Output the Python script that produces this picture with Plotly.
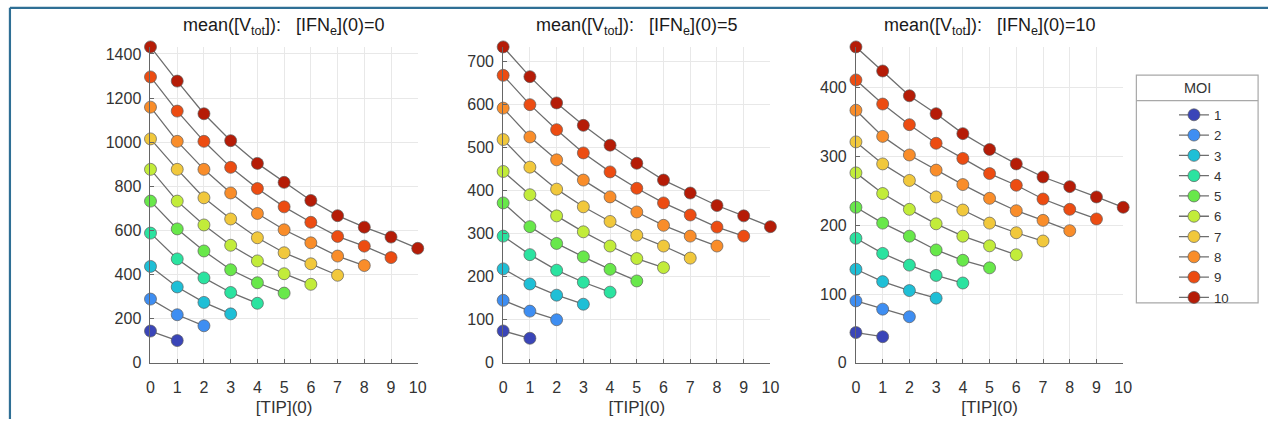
import plotly.graph_objects as go

W, H = 1277, 428

moi = [1, 2, 3, 4, 5, 6, 7, 8, 9, 10]
moi_labels = ["1", "2", "3", "4", "5", "6", "7", "8", "9", "10"]
ifn_values = [0, 5, 10]

# mean([V_tot]) for each MOI, at [TIP](0) = 0..MOI
vtot_ifn0 = [
    [144, 101],
    [289, 218, 168],
    [437, 344, 274, 222],
    [588, 471, 385, 319, 270],
    [733, 607, 507, 422, 363, 316],
    [877, 733, 625, 533, 462, 404, 356],
    [1015, 877, 748, 652, 567, 499, 449, 397],
    [1159, 1004, 877, 770, 677, 603, 544, 484, 441],
    [1296, 1141, 1004, 886, 790, 707, 637, 573, 529, 477],
    [1432, 1277, 1129, 1007, 904, 818, 736, 667, 615, 570, 519],
]
vtot_ifn5 = [
    [74, 57],
    [145, 120, 100],
    [218, 183, 157, 136],
    [294, 251, 215, 187, 164],
    [371, 316, 277, 246, 217, 190],
    [444, 390, 341, 304, 271, 242, 221],
    [518, 454, 403, 362, 328, 296, 271, 243],
    [591, 524, 471, 424, 385, 350, 319, 294, 271],
    [667, 599, 541, 487, 443, 405, 371, 343, 315, 294],
    [733, 664, 603, 551, 505, 463, 424, 394, 365, 341, 316],
]
vtot_ifn10 = [
    [44, 38],
    [90, 78, 67],
    [136, 118, 105, 94],
    [181, 159, 142, 127, 116],
    [226, 203, 184, 164, 149, 138],
    [276, 246, 223, 202, 184, 170, 157],
    [321, 289, 265, 241, 222, 203, 189, 177],
    [367, 329, 302, 280, 259, 239, 221, 207, 192],
    [411, 376, 346, 319, 297, 275, 258, 238, 223, 209],
    [459, 424, 388, 362, 333, 310, 289, 270, 256, 241, 226],
]
panels = [vtot_ifn0, vtot_ifn5, vtot_ifn10]
ytick_vals = [
    [0, 200, 400, 600, 800, 1000, 1200, 1400],
    [0, 100, 200, 300, 400, 500, 600, 700],
    [0, 100, 200, 300, 400],
]
xtick_vals = list(range(0, 11))

colors = ["#3a45b8", "#3e8ef2", "#1fbfd6", "#2be3a0", "#68e84a",
          "#c2ec3a", "#f1c83c", "#f98d2a", "#ec4c12", "#b51c07"]

# pixel layout
x_px = [(148, 418), (504.3, 774.3), (860.7, 1130.7)]
y_bot, y_top = 370.5, 47

fig = go.Figure()
font_fam = "Liberation Sans, Arial, sans-serif"
txt_col = "#333333"

for p, data in enumerate(panels):
    xa = "x" if p == 0 else f"x{p+1}"
    ya = "y" if p == 0 else f"y{p+1}"
    for i, vals in enumerate(data):
        fig.add_trace(go.Scatter(
            x=list(range(len(vals))), y=vals, xaxis=xa, yaxis=ya,
            mode="lines+markers", name=moi_labels[i], legendgroup=moi_labels[i],
            showlegend=(p == 0),
            line=dict(color="#6e6e6e", width=1.3),
            marker=dict(size=12, color=colors[i],
                        line=dict(color="rgba(90,90,90,0.85)", width=0.8)),
            cliponaxis=False,
        ))
    ymax = max(max(v) for v in data)
    ax = dict(
        domain=[x_px[p][0] / W, x_px[p][1] / W], range=[0, 10],
        tickvals=xtick_vals, ticks="inside", ticklen=4, tickcolor="#666",
        showline=True, linecolor="#666", linewidth=1, mirror=False,
        showgrid=True, gridcolor="#e8e8e8", gridwidth=1, zeroline=False,
        tickfont=dict(size=16, color=txt_col, family=font_fam),
        ticklabelstandoff=10,
        title=dict(text="[TIP](0)", font=dict(size=17, color=txt_col, family=font_fam), standoff=6),
        anchor=ya, fixedrange=True,
    )
    ay = dict(
        domain=[1 - y_bot / H, 1 - y_top / H], range=[0, ymax],
        tickvals=ytick_vals[p], ticks="inside", ticklen=4, tickcolor="#666",
        showline=True, linecolor="#666", linewidth=1, mirror=False,
        showgrid=True, gridcolor="#e8e8e8", gridwidth=1, zeroline=False,
        tickfont=dict(size=16, color=txt_col, family=font_fam),
        ticklabelstandoff=5,
        anchor=xa, fixedrange=True,
    )
    if p == 0:
        fig.update_layout(xaxis=ax, yaxis=ay)
    else:
        fig.update_layout(**{f"xaxis{p+1}": ax, f"yaxis{p+1}": ay})
    nb = "\u00a0"
    fig.add_annotation(
        text=f"mean([V<sub>tot</sub>]):{nb*3}[IFN<sub>e</sub>](0)={ifn_values[p]}",
        xref="paper", yref="paper",
        x=(x_px[p][0] + x_px[p][1]) / 2 / W, y=1 - 26 / H,
        xanchor="center", yanchor="middle", showarrow=False,
        font=dict(size=18, color="#1a1a1a", family=font_fam),
    )

# legend frame and title
lx0, lx1, ly0, ly1, lsep = 1144, 1267, 76, 309, 102
fig.add_shape(type="rect", xref="paper", yref="paper",
              x0=lx0 / W, x1=lx1 / W, y0=1 - ly1 / H, y1=1 - ly0 / H,
              line=dict(color="#a8a8a8", width=1.2), fillcolor="white", layer="below")
fig.add_shape(type="line", xref="paper", yref="paper",
              x0=lx0 / W, x1=lx1 / W, y0=1 - lsep / H, y1=1 - lsep / H,
              line=dict(color="#a8a8a8", width=1.2))
fig.add_annotation(text="MOI", xref="paper", yref="paper",
                   x=(lx0 + lx1) / 2 / W, y=1 - 89 / H, showarrow=False,
                   xanchor="center", yanchor="middle",
                   font=dict(size=14.5, color=txt_col, family=font_fam))

# outer frame lines
fig.add_shape(type="line", xref="paper", yref="paper",
              x0=6 / W, x1=1, y0=1 - 7 / H, y1=1 - 7 / H,
              line=dict(color="#2f6f95", width=2.2))
fig.add_shape(type="line", xref="paper", yref="paper",
              x0=6 / W, x1=6 / W, y0=0, y1=1 - 7 / H,
              line=dict(color="#2f6f95", width=2.2))

fig.update_layout(
    width=W, height=H, margin=dict(l=0, r=0, t=0, b=0),
    paper_bgcolor="white", plot_bgcolor="white",
    showlegend=True,
    legend=dict(x=1182 / W, y=1 - 101 / H, xanchor="left", yanchor="top",
                bgcolor="rgba(0,0,0,0)", borderwidth=0,
                font=dict(size=13.3, color=txt_col, family=font_fam),
                itemsizing="trace", tracegroupgap=0),
    font=dict(family=font_fam),
)

fig.write_html("out.html")
